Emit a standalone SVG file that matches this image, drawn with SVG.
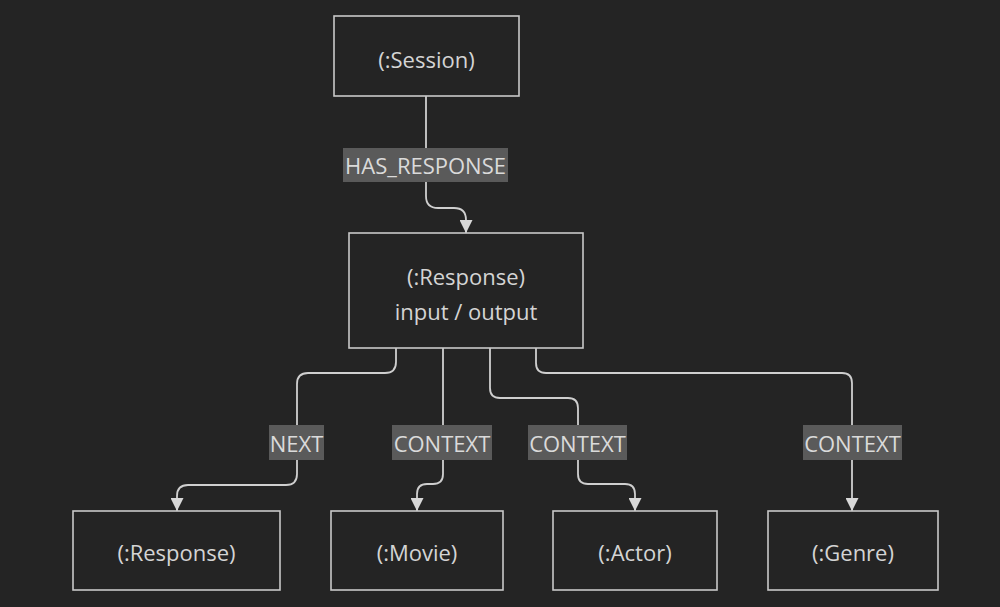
<svg xmlns="http://www.w3.org/2000/svg" width="1000" height="607" viewBox="0 0 1000 607">
<style>
.bg{fill:#242424}
.node rect{fill:#242424;stroke:#c8c8c8;stroke-width:1.6}
.node text{fill:#d4d4d4;font-family:"Open Sans","Noto Sans",sans-serif;font-size:22px;text-anchor:middle;dominant-baseline:central}
.edge{fill:none;stroke:#cfcfcf;stroke-width:1.8}
.lbl rect{fill:#5a5a5a}
.lbl text{fill:#dadada;font-family:"Open Sans","Noto Sans",sans-serif;font-size:22px;text-anchor:middle;dominant-baseline:central}
</style>
<defs>
<marker id="arr" viewBox="0 0 10 10" refX="10" refY="5" markerUnits="userSpaceOnUse" markerWidth="13" markerHeight="13" orient="auto">
<path d="M0,0 L10,5 L0,10 z" fill="#d8d8d8"/>
</marker>
</defs>
<rect class="bg" x="0" y="0" width="1000" height="607"/>
<g id="connectors">
<path class="edge" marker-end="url(#arr)" d="M426,96 L426,196 Q426,208 438,208 L454,208 Q466,208 466,220 L466,233"/>
<path class="edge" marker-end="url(#arr)" d="M396,348 L396,362 Q396,373 385,373 L308,373 Q297,373 297,384 L297,474 Q297,485 286,485 L188,485 Q177,485 177,496 L177,511"/>
<path class="edge" marker-end="url(#arr)" d="M443,348 L443,474 Q443,484 433,484 L427,484 Q417,484 417,494 L417,511"/>
<path class="edge" marker-end="url(#arr)" d="M490,348 L490,388 Q490,398 500,398 L568,398 Q578,398 578,408 L578,474 Q578,484 588,484 L625,484 Q635,484 635,494 L635,511"/>
<path class="edge" marker-end="url(#arr)" d="M536,348 L536,363 Q536,373 546,373 L842,373 Q852,373 852,383 L852,511"/>
<g class="lbl" id="lbl-has-response"><rect x="343" y="148" width="165" height="34"/><text x="425.5" y="165">HAS_RESPONSE</text></g>
<g class="lbl" id="lbl-next"><rect x="269" y="425" width="55" height="35"/><text x="296.5" y="442.5">NEXT</text></g>
<g class="lbl" id="lbl-context-movie"><rect x="392" y="425" width="100" height="35"/><text x="442" y="442.5">CONTEXT</text></g>
<g class="lbl" id="lbl-context-actor"><rect x="528" y="425" width="99" height="35"/><text x="577.5" y="442.5">CONTEXT</text></g>
<g class="lbl" id="lbl-context-genre"><rect x="803" y="425" width="99" height="35"/><text x="852.5" y="442.5">CONTEXT</text></g>
</g>
<g class="node" id="session"><rect x="334" y="16" width="185" height="80"/><text x="426.5" y="59">(:Session)</text></g>
<g class="node" id="response"><rect x="349" y="233" width="234" height="115"/><text x="466" y="276">(:Response)</text><text x="466" y="311">input / output</text></g>
<g class="node" id="response2"><rect x="73" y="511" width="207" height="79"/><text x="176.5" y="552">(:Response)</text></g>
<g class="node" id="movie"><rect x="331" y="511" width="172" height="79"/><text x="417" y="552">(:Movie)</text></g>
<g class="node" id="actor"><rect x="553" y="511" width="164" height="79"/><text x="635" y="552">(:Actor)</text></g>
<g class="node" id="genre"><rect x="768" y="511" width="170" height="79"/><text x="853" y="552">(:Genre)</text></g>
</svg>
